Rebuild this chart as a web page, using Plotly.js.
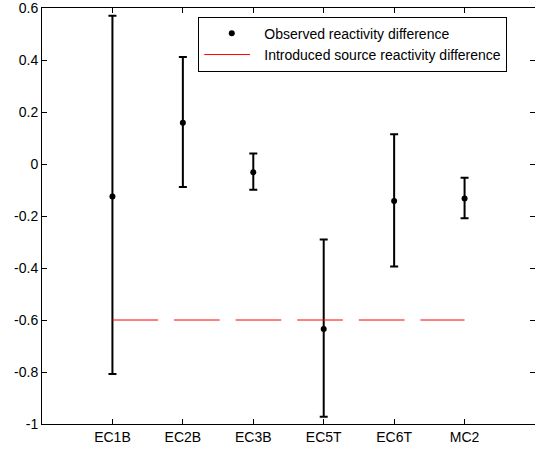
<!DOCTYPE html>
<html>
<head>
<meta charset="utf-8">
<script src="https://cdn.plot.ly/plotly-3.0.1.min.js"></script>
<style>
html,body{margin:0;padding:0;background:#fff;}
#chart{width:535px;height:450px;}
</style>
</head>
<body>
<div id="chart"></div>
<script>
const categories = ['EC1B', 'EC2B', 'EC3B', 'EC5T', 'EC6T', 'MC2'];
const observed = [-0.125, 0.159, -0.032, -0.635, -0.142, -0.133];
const upper = [0.570, 0.412, 0.040, -0.290, 0.114, -0.053];
const lower = [-0.808, -0.088, -0.099, -0.972, -0.394, -0.209];
const introduced = [-0.6, -0.6, -0.6, -0.6, -0.6, -0.6];
const yTicks = [-1, -0.8, -0.6, -0.4, -0.2, 0, 0.2, 0.4, 0.6];
const yTickText = ['-1', '-0.8', '-0.6', '-0.4', '-0.2', '0', '0.2', '0.4', '0.6'];

const errPlus = upper.map((u, i) => u - observed[i]);
const errMinus = lower.map((l, i) => observed[i] - l);

const font = {family: '"Liberation Sans", Arial, sans-serif', size: 14, color: '#000'};

const traces = [
  {
    type: 'scatter', mode: 'markers', name: 'Observed reactivity difference',
    x: categories, y: observed,
    marker: {color: '#000', size: 6},
    error_y: {type: 'data', symmetric: false, array: errPlus, arrayminus: errMinus,
              color: '#000', thickness: 2, width: 4}
  },
  {
    type: 'scatter', mode: 'lines', name: 'Introduced source reactivity difference',
    x: categories, y: introduced,
    line: {color: '#ff0000', width: 1, dash: '45.7px,15.9px'}
  }
];

const layout = {
  width: 535, height: 450,
  margin: {l: 42, r: 0, t: 8, b: 26, pad: 0},
  paper_bgcolor: '#fff', plot_bgcolor: '#fff',
  font: font,
  showlegend: true,
  legend: {
    x: 0.317, y: 0.979, xanchor: 'left', yanchor: 'top',
    bgcolor: '#fff', bordercolor: '#000', borderwidth: 1,
    font: font, itemwidth: 55, tracegroupgap: 0
  },
  xaxis: {
    type: 'category', categoryorder: 'array', categoryarray: categories,
    range: [-1, 6], showgrid: false, zeroline: false,
    showline: true, linecolor: '#000', linewidth: 1, mirror: 'ticks',
    ticks: 'inside', ticklen: 5, tickcolor: '#000', tickwidth: 1,
    tickfont: font, fixedrange: true, ticklabeloverflow: 'allow'
  },
  yaxis: {
    range: [-1, 0.6], tickvals: yTicks, ticktext: yTickText,
    showgrid: false, zeroline: false,
    showline: true, linecolor: '#000', linewidth: 1, mirror: 'ticks',
    ticks: 'inside', ticklen: 5, tickcolor: '#000', tickwidth: 1,
    tickfont: font, fixedrange: true, ticklabeloverflow: 'allow'
  }
};

Plotly.newPlot('chart', traces, layout, {displayModeBar: false, staticPlot: true});
</script>
</body>
</html>
